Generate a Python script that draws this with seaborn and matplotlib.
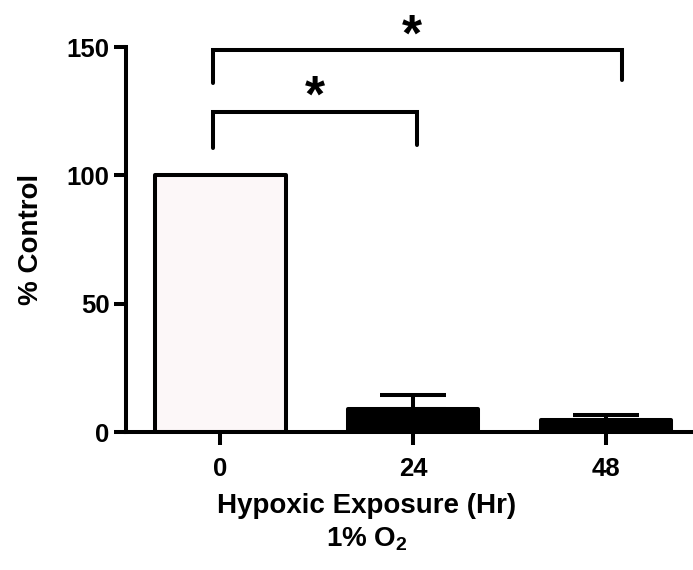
import matplotlib
matplotlib.use("Agg")
import matplotlib.pyplot as plt
import seaborn as sns
import pandas as pd

# data
hours = ["0", "24", "48"]
pct_control = [100, 9, 4.5]
sem = [0, 5.5, 2.3]
bar_colors = ["#fdf6f8", "black", "black"]

# significance brackets: (left group, right group, bracket top, leg bottom left, leg bottom right)
brackets = [(-0.04, 2.08, 149, 136, 137), (-0.04, 1.02, 124.5, 110.5, 112)]
stars = [(0.99, 148.5), (0.49, 125)]

sns.set_style("ticks")
plt.rcParams["font.family"] = ["Liberation Sans", "DejaVu Sans"]
plt.rcParams["font.weight"] = "bold"
plt.rcParams["text.color"] = "black"
plt.rcParams["axes.labelcolor"] = "black"
plt.rcParams["xtick.color"] = "black"
plt.rcParams["ytick.color"] = "black"
plt.rcParams["axes.edgecolor"] = "black"
plt.rcParams["mathtext.fontset"] = "custom"
plt.rcParams["mathtext.bf"] = "Liberation Sans:bold"
plt.rcParams["mathtext.rm"] = "Liberation Sans:bold"
plt.rcParams["mathtext.default"] = "bf"

df = pd.DataFrame({"hours": hours, "pct": pct_control, "sem": sem})

fig = plt.figure(figsize=(6.93, 5.70), dpi=100)
ax = fig.add_axes([0.1818, 0.2421, 0.818, 0.6754])

lw = 2.9
sns.barplot(data=df, x="hours", y="pct", hue="hours", palette=bar_colors,
            order=hours, width=0.675, edgecolor="black", linewidth=lw,
            errorbar=None, legend=False, ax=ax)
for p in ax.patches:
    p.set_joinstyle("round")

# upper-only error bars
ax.errorbar(range(1, len(hours)), df["pct"][1:], yerr=[[0] * 2, df["sem"][1:]],
            fmt="none", ecolor="black", elinewidth=lw, capsize=24, capthick=lw)

for x0, x1, top, b0, b1 in brackets:
    ax.plot([x0, x0, x1, x1], [b0, top, top, b1], color="black", lw=lw,
            solid_capstyle="round", solid_joinstyle="miter", clip_on=False)
for sx, sy in stars:
    ax.text(sx, sy, "*", ha="center", va="baseline", fontsize=37,
            fontweight="bold", clip_on=False)

ax.set_xlim(-0.49, 2.45)
ax.set_ylim(0, 150)
ax.set_yticks([0, 50, 100, 150])
sns.despine(ax=ax)
for s in ["left", "bottom"]:
    ax.spines[s].set_linewidth(lw)
ax.tick_params(axis="both", width=lw, length=9, labelsize=18.5)
ax.tick_params(axis="x", pad=9)
ax.tick_params(axis="y", pad=3)

ax.set_ylabel("% Control", fontsize=20, fontweight="bold")
ax.yaxis.set_label_coords(-0.145, 0.5)
ax.set_xlabel("Hypoxic Exposure (Hr)\n1% O$_2$", fontsize=20,
              fontweight="bold", linespacing=1.3)
ax.xaxis.set_label_coords(0.425, -0.158)
ax.xaxis.label.set_va("top")

fig.savefig("out.png", dpi=100)
